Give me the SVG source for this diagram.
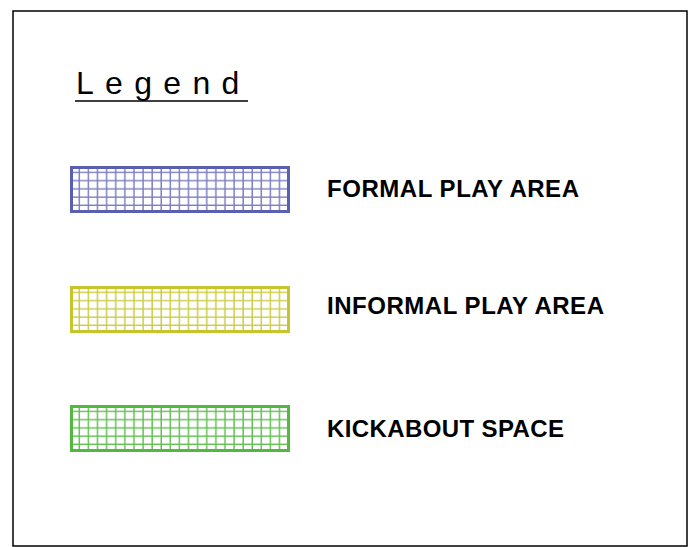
<svg xmlns="http://www.w3.org/2000/svg" width="688" height="547" viewBox="0 0 688 547">
<style>
.lbl{font-family:"Liberation Sans",Arial,sans-serif;font-weight:bold;font-size:24px;fill:#000}
.title{font-family:"Liberation Sans",Arial,sans-serif;font-size:32px;fill:#000;letter-spacing:11.3px}
.sw{stroke-width:3}
</style>
<defs>
<pattern id="pb" patternUnits="userSpaceOnUse" x="71" y="165" width="9.1" height="8.2"><path d="M8.4 0V8.2M0 7.6H9.1" stroke="#7a7dc2" stroke-width="1.5" fill="none"/></pattern>
<pattern id="py" patternUnits="userSpaceOnUse" x="71" y="285" width="9.1" height="8.2"><path d="M8.4 0V8.2M0 7.6H9.1" stroke="#cccc45" stroke-width="1.5" fill="none"/></pattern>
<pattern id="pg" patternUnits="userSpaceOnUse" x="71" y="404" width="9.1" height="8.2"><path d="M8.4 0V8.2M0 7.6H9.1" stroke="#62c052" stroke-width="1.5" fill="none"/></pattern>
</defs>
<rect x="13" y="11" width="674" height="535" fill="#fff" stroke="#000" stroke-width="1.5"/>
<g id="legend-title">
<text class="title" x="76" y="94">Legend</text>
<line x1="75" y1="101" x2="248" y2="101" stroke="#000" stroke-width="1.5"/>
</g>
<g id="formal">
<rect x="71.5" y="167.5" width="217" height="44" fill="url(#pb)" stroke="#5b5fb0" class="sw"/>
<text class="lbl" x="327" y="197" textLength="252" lengthAdjust="spacing">FORMAL PLAY AREA</text>
</g>
<g id="informal">
<rect x="71.5" y="287.5" width="217" height="44" fill="url(#py)" stroke="#c6c62c" class="sw"/>
<text class="lbl" x="327" y="314" textLength="277" lengthAdjust="spacing">INFORMAL PLAY AREA</text>
</g>
<g id="kickabout">
<rect x="71.5" y="406.5" width="217" height="44" fill="url(#pg)" stroke="#52b840" class="sw"/>
<text class="lbl" x="327" y="437" textLength="237" lengthAdjust="spacing">KICKABOUT SPACE</text>
</g>
<g id="connectors"/>
</svg>
